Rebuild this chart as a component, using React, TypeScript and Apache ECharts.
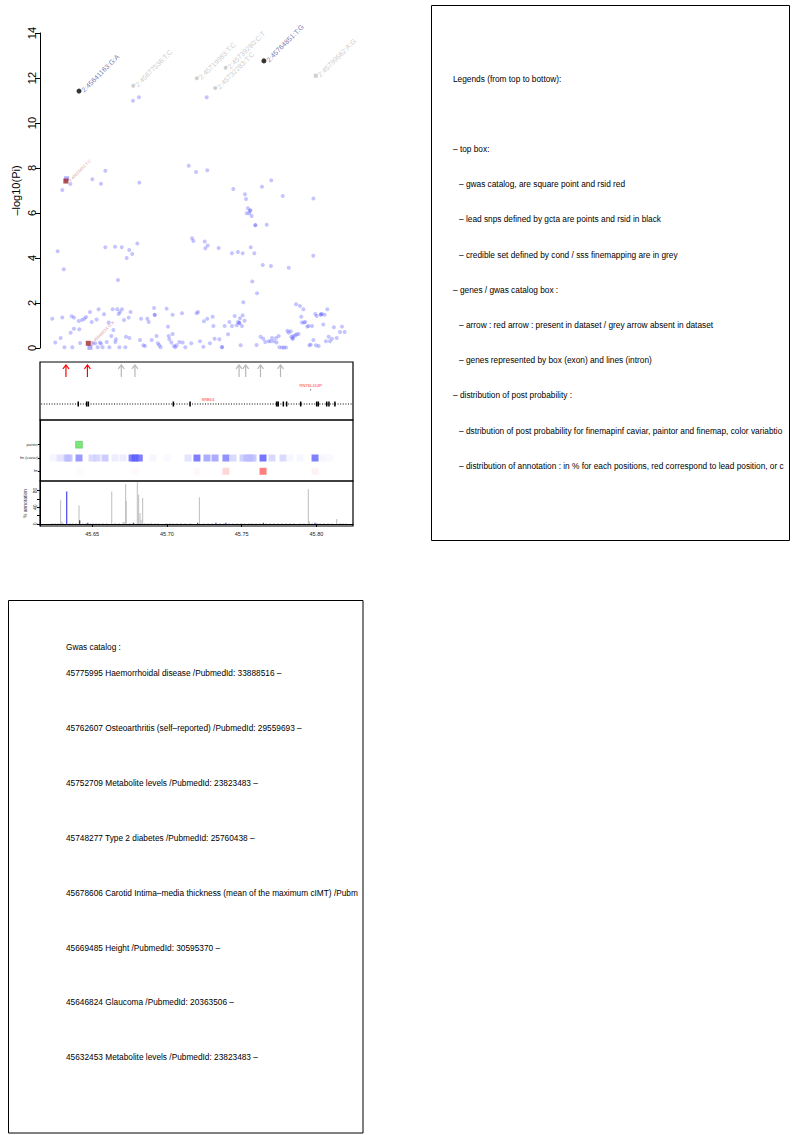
import React, { useEffect, useRef } from "react";
import * as echarts from "echarts";

const FONT = "'Liberation Sans', Arial, Helvetica, sans-serif";

// ---------- axis ranges / ticks ----------
const regionStart = 45.6151;
const regionEnd = 45.8245;
const positionTicks = [45.65, 45.7, 45.75, 45.8];
const logPMax = 14;
const annotationTicks = [0, 20, 40, 60, 80];
const annotationLabels = [0, 40, 80];

// ---------- scatter: all SNPs (position Mb, -log10 p) ----------
const snpPoints: [number, number][] = [
  [45.6773, 10.99], [45.6813, 11.14], [45.7266, 11.14],
  [45.63, 7.02], [45.6354, 7.29], [45.6501, 7.5], [45.6559, 7.3], [45.6588, 7.88], [45.6815, 7.35],
  [45.7146, 8.1], [45.7195, 7.82], [45.727, 7.9], [45.7444, 7.07], [45.7522, 6.83], [45.7529, 6.62],
  [45.7636, 7.17], [45.7698, 7.45], [45.7775, 6.76], [45.798, 6.64],
  [45.7542, 6.21], [45.7556, 6.1], [45.7558, 6.12], [45.7534, 5.99], [45.7551, 5.99], [45.7567, 5.87],
  [45.7591, 5.45], [45.7592, 5.47], [45.7668, 5.48],
  [45.6269, 4.3], [45.631, 3.5], [45.6588, 4.48], [45.6653, 4.5], [45.6698, 4.48], [45.6748, 4.36],
  [45.6768, 4.18], [45.6802, 4.64], [45.6731, 4.0], [45.6673, 3.02],
  [45.7168, 4.88], [45.7177, 4.76], [45.7253, 4.73], [45.7273, 4.56], [45.7257, 4.43], [45.7346, 4.44],
  [45.7435, 4.21], [45.7475, 4.27], [45.7507, 4.21], [45.7561, 4.48], [45.7585, 4.21], [45.7641, 3.69],
  [45.7696, 3.64], [45.7815, 3.57], [45.7979, 4.1], [45.7571, 2.96], [45.7603, 2.43], [45.7511, 2.03],
  [45.6233, 1.3], [45.6253, 0.24], [45.6289, 0.44], [45.63, 1.36], [45.6314, 0.03], [45.6356, 0.68],
  [45.6363, 1.41], [45.6367, 0.03], [45.6378, 0.86], [45.6378, 1.35], [45.641, 1.2], [45.6414, 0.83],
  [45.6419, 0.22], [45.6432, 1.24], [45.6448, 1.3], [45.6459, 1.38], [45.6485, 1.6], [45.6497, 1.16],
  [45.6503, 0.21], [45.6521, 0.21], [45.653, 1.27], [45.6537, 0.03], [45.6543, 1.72], [45.6552, 0.24],
  [45.6559, 0.19], [45.657, 0.03], [45.6579, 1.5], [45.6597, 0.27], [45.661, 1.13], [45.6615, 0.03],
  [45.6628, 0.53], [45.6637, 1.72], [45.6642, 0.8], [45.6655, 0.27], [45.6659, 0.39], [45.6668, 1.72],
  [45.6677, 1.51], [45.6682, 0.03], [45.6686, 1.6], [45.6699, 1.72], [45.6713, 1.24], [45.6722, 0.03],
  [45.6726, 0.5], [45.6744, 1.35], [45.6749, 0.44], [45.6757, 1.6], [45.682, 0.36], [45.6827, 1.3],
  [45.6842, 0.12], [45.6853, 0.09], [45.6869, 1.3], [45.6878, 1.16], [45.6898, 0.36], [45.6914, 1.78],
  [45.6918, 1.48], [45.6919, 1.47], [45.6931, 0.53], [45.694, 0.21], [45.6949, 0.12], [45.6958, 0.03],
  [45.6998, 1.75], [45.7007, 0.95], [45.7012, 0.53], [45.7016, 0.39], [45.703, 0.24], [45.7038, 0.62],
  [45.7038, 1.48], [45.7047, 0.09], [45.7056, 0.03], [45.7065, 0.12], [45.7083, 0.27], [45.7105, 0.24],
  [45.7101, 1.54], [45.7123, 0.03], [45.7163, 0.21], [45.7199, 1.54], [45.7208, 1.6], [45.7221, 0.3],
  [45.7244, 0.06], [45.7248, 1.19], [45.727, 1.3], [45.7288, 0.21], [45.7306, 1.39], [45.7311, 0.98],
  [45.7319, 0.41], [45.7351, 0.39], [45.7368, 0.03], [45.7369, 0.04], [45.7386, 0.98], [45.7409, 0.61],
  [45.7418, 1.16], [45.7435, 0.98], [45.7453, 1.42], [45.7467, 1.01], [45.7476, 1.16], [45.7484, 1.1],
  [45.7485, 1.12], [45.7489, 1.32], [45.7502, 0.98], [45.7507, 1.45], [45.752, 1.21], [45.7493, 0.12],
  [45.76, 0.13], [45.7627, 0.5], [45.7645, 0.41], [45.7658, 0.27], [45.7681, 0.3], [45.7694, 0.3],
  [45.7703, 0.44], [45.7716, 0.3], [45.773, 0.44], [45.7734, 0.24], [45.7748, 0.53], [45.7752, 0.03],
  [45.777, 0.02], [45.7783, 0.02], [45.7797, 0.02], [45.7806, 0.77], [45.7814, 0.68], [45.7828, 0.74],
  [45.7832, 0.5], [45.7841, 0.41], [45.7842, 0.43], [45.7846, 0.53], [45.7859, 0.56], [45.7868, 0.61],
  [45.7881, 0.62], [45.7864, 1.94], [45.789, 1.87], [45.7899, 1.39], [45.7904, 1.13], [45.7913, 1.72],
  [45.7917, 1.13], [45.7926, 1.16], [45.7939, 0.95], [45.7948, 0.98], [45.7953, 0.12], [45.7962, 0.15],
  [45.7971, 0.98], [45.798, 0.36], [45.7993, 1.51], [45.7997, 0.12], [45.8002, 1.42], [45.8015, 0.09],
  [45.8029, 1.48], [45.803, 1.5], [45.8037, 1.51], [45.8046, 1.04], [45.8055, 1.48], [45.8064, 0.3],
  [45.8073, 1.72], [45.8082, 0.5], [45.8091, 0.3], [45.8104, 0.41], [45.8117, 0.92], [45.8136, 0.44],
  [45.8158, 0.71], [45.8171, 0.95], [45.8189, 0.71],
];

// lead SNPs (gcta) - black points
const leadIds = ["2:45641163:G:A", "2:45764851:T:G"];
const leadPos = [45.6412, 45.7649];
const leadLogP = [11.42, 12.76];

// credible set SNPs - grey
const credIds = ["2:45677536:T:C", "2:45719983:T:C", "2:45739280:C:T", "2:45732283:T:C", "2:45799562:A:G"];
const credPos = [45.6775, 45.72, 45.7393, 45.7323, 45.7996];
const credLogP = [11.66, 11.99, 12.46, 11.56, 12.1];
const credShape = ["circle", "circle", "circle", "circle", "rect"];

// gwas catalog SNPs found in data - red
const gwasIds = ["2:45632453:T:C", "2:45646824:G:A"];
const gwasPos = [45.6324, 45.6474];
const gwasLogP = [7.42, 0.21];
const gwasSquarePos = [45.6329, 45.6485];
const gwasSquareLogP = [7.52, 0.03];

// ---------- genes / gwas catalog box ----------
const catalogPos = [45.632453, 45.646824, 45.669485, 45.678606, 45.748277, 45.752709, 45.762607, 45.775995];
const catalogInData = [1, 1, 0, 0, 0, 0, 0, 0];
const geneNames = ["SRBD1", "RN7SL414P"];
const geneStart = [45.6159, 45.7961];
const geneEnd = [45.8393, 45.7963];
const geneRow = [0, 1];
const exons: [number, number][] = [
  [45.6403, 45.6411], [45.646, 45.6466], [45.6471, 45.6478], [45.7041, 45.7045], [45.7152, 45.7158],
  [45.7729, 45.7741], [45.7742, 45.7748], [45.7776, 45.7782], [45.7798, 45.7804], [45.7892, 45.7898],
  [45.7998, 45.8006], [45.801, 45.8016], [45.8066, 45.8072], [45.8081, 45.8087], [45.8121, 45.8127],
];

// ---------- post probability ----------
const probRows = ["fm", "fm (caviar)", "paintor"];
const paintorPP: [number, number][] = [[45.6412, 0.65]];
const caviarPP: [number, number][] = [
  [45.6238, 0.05], [45.6285, 0.15], [45.6332, 0.3], [45.6345, 0.3], [45.6412, 0.55], [45.6499, 0.2],
  [45.6532, 0.22], [45.6586, 0.28], [45.6653, 0.1], [45.6706, 0.1], [45.6767, 0.7], [45.6787, 0.72],
  [45.6815, 0.7], [45.6907, 0.05], [45.7001, 0.03], [45.7141, 0.15], [45.7201, 0.7], [45.7268, 0.45],
  [45.7322, 0.45], [45.7395, 0.6], [45.7442, 0.2], [45.7509, 0.25], [45.7536, 0.3], [45.7556, 0.3],
  [45.7576, 0.3], [45.7643, 0.75], [45.7703, 0.2], [45.7777, 0.2], [45.7824, 0.05], [45.789, 0.05],
  [45.7991, 0.7], [45.8044, 0.05], [45.8091, 0.03],
];
const finemapPP: [number, number][] = [
  [45.6419, 0.03], [45.6787, 0.03], [45.7201, 0.04], [45.7395, 0.22], [45.7643, 0.7], [45.7991, 0.07],
];

// ---------- annotation % ----------
const annotGrey: [number, number][] = [
  [45.6289, 57], [45.6298, 6], [45.6412, 44], [45.6631, 78], [45.6713, 5], [45.6724, 96], [45.6728, 55],
  [45.6802, 100], [45.6811, 70], [45.682, 26], [45.6827, 10], [45.6838, 62], [45.7217, 64], [45.7946, 83],
  [45.7953, 6], [45.8136, 12],
  [45.6231, 2], [45.6251, 2], [45.6271, 3], [45.6305, 2], [45.6352, 2], [45.6372, 3], [45.6392, 2],
  [45.6439, 2], [45.6459, 2], [45.6486, 2], [45.6506, 2], [45.6526, 3], [45.6546, 2], [45.6572, 2],
  [45.6599, 2], [45.6653, 3], [45.668, 2], [45.6706, 4], [45.6753, 2], [45.678, 3], [45.6853, 2],
  [45.6874, 2], [45.6894, 3], [45.692, 2], [45.694, 2], [45.6994, 2], [45.7021, 3], [45.7041, 2],
  [45.7068, 2], [45.7094, 2], [45.7121, 2], [45.7155, 2], [45.7248, 2], [45.7275, 2], [45.7302, 2],
  [45.7355, 2], [45.7382, 2], [45.7415, 2], [45.7442, 2], [45.7469, 2], [45.7496, 2], [45.7522, 2],
  [45.7549, 2], [45.7569, 2], [45.7596, 2], [45.7623, 2], [45.7663, 2], [45.769, 2], [45.7716, 2],
  [45.7743, 2], [45.777, 2], [45.7797, 2], [45.7824, 2], [45.785, 2], [45.789, 2], [45.7917, 2],
  [45.7971, 3], [45.8004, 3], [45.8024, 2], [45.8051, 2], [45.8078, 2], [45.8104, 2], [45.8158, 2],
  [45.8178, 2], [45.8198, 2],
];
const annotBlue: [number, number][] = [
  [45.633, 78], [45.6471, 3], [45.6775, 3], [45.7206, 3], [45.7328, 3], [45.7395, 3], [45.7645, 3], [45.7991, 3],
];
const annotLead: [number, number][] = [[45.6417, 9]];

// ---------- text boxes ----------
const legendLines = [
  { level: 0, text: "Legends (from top to bottow):" },
  { level: 0, text: "" },
  { level: 0, text: "– top box:" },
  { level: 1, text: "– gwas catalog, are square point and rsid red" },
  { level: 1, text: "– lead snps defined by gcta are points and rsid in black" },
  { level: 1, text: "– credible set defined by cond / sss finemapping are in grey" },
  { level: 0, text: "– genes / gwas catalog box :" },
  { level: 1, text: "– arrow : red arrow : present in dataset / grey arrow absent in dataset" },
  { level: 1, text: "– genes represented by box (exon) and lines (intron)" },
  { level: 0, text: "– distribution of post probability :" },
  { level: 1, text: "– dstribution of post probability for finemapinf caviar, paintor and finemap, color variabtio" },
  { level: 1, text: "– distribution of annotation : in % for each positions, red correspond to lead position, or c" },
];
const gwasTitle = "Gwas catalog :";
const gwasLines = [
  "45775995 Haemorrhoidal disease /PubmedId: 33888516 –",
  "45762607 Osteoarthritis (self–reported) /PubmedId: 29559693 –",
  "45752709 Metabolite levels /PubmedId: 23823483 –",
  "45748277 Type 2 diabetes /PubmedId: 25760438 –",
  "45678606 Carotid Intima–media thickness (mean of the maximum cIMT) /Pubm",
  "45669485 Height /PubmedId: 30595370 –",
  "45646824 Glaucoma /PubmedId: 20363506 –",
  "45632453 Metabolite levels /PubmedId: 23823483 –",
];

function buildOption() {
  const plotLeft = 40;
  const plotWidth = 313;
  const geneRowY = [0.276, 0.52];
  const rowValue = (name: string) => probRows.indexOf(name) + 1;

  const xBase = { type: "value", min: regionStart, max: regionEnd, show: false };

  const barRender = (color: string) => (params: any, api: any) => {
    const x = api.value(0);
    const v = api.value(1);
    const p0 = api.coord([x, 0]);
    const p1 = api.coord([x, v]);
    return {
      type: "rect",
      shape: { x: p0[0] - 0.5, y: p1[1], width: 1, height: p0[1] - p1[1] },
      style: { fill: color },
    };
  };

  const legendGraphics: any[] = legendLines.map((ln, i) => ({
    type: "text",
    x: ln.level === 0 ? 453 : 459,
    y: 78.6 + 35.2 * i,
    style: {
      text: ln.text,
      fontSize: 8.3,
      fontFamily: FONT,
      fill: "#000",
      verticalAlign: "middle",
      width: ln.level === 0 ? 337 : 331,
      overflow: "truncate",
      ellipsis: "",
    },
  }));
  const gwasGraphics: any[] = [
    {
      type: "text",
      x: 66,
      y: 647,
      style: { text: gwasTitle, fontSize: 8.3, fontFamily: FONT, fill: "#000", verticalAlign: "middle" },
    },
    ...gwasLines.map((t, i) => ({
      type: "text",
      x: 66,
      y: 673 + 54.9 * i,
      style: {
        text: t,
        fontSize: 8.3,
        fontFamily: FONT,
        fill: "#000",
        verticalAlign: "middle",
        width: 297,
        overflow: "truncate",
        ellipsis: "",
      },
    })),
  ];

  return {
    animation: false,
    backgroundColor: "#ffffff",
    textStyle: { fontFamily: FONT },
    grid: [
      { left: plotLeft, top: 33, width: plotWidth, height: 315, show: false },
      { left: plotLeft, top: 362, width: plotWidth, height: 58, show: true, borderColor: "#000", borderWidth: 1.2 },
      { left: plotLeft, top: 420, width: plotWidth, height: 61, show: true, borderColor: "#000", borderWidth: 1.2 },
      { left: plotLeft, top: 481, width: plotWidth, height: 45, show: true, borderColor: "#000", borderWidth: 1.2 },
    ],
    xAxis: [
      { ...xBase, gridIndex: 0 },
      { ...xBase, gridIndex: 1 },
      { ...xBase, gridIndex: 2 },
      {
        type: "value",
        gridIndex: 3,
        min: regionStart,
        max: regionEnd,
        position: "bottom",
        axisLine: { show: true, lineStyle: { color: "#000", width: 1 } },
        axisTick: { show: true, customValues: positionTicks, length: 3, lineStyle: { color: "#000" } },
        axisLabel: {
          customValues: positionTicks,
          formatter: (v: number) => v.toFixed(2),
          fontSize: 5.5,
          color: "#222",
          margin: 5,
          fontFamily: FONT,
        },
        splitLine: { show: false },
      },
    ],
    yAxis: [
      {
        type: "value",
        gridIndex: 0,
        min: 0,
        max: logPMax,
        interval: 2,
        axisLine: { show: true, lineStyle: { color: "#000", width: 1 } },
        axisTick: { show: true, length: 5, lineStyle: { color: "#000" } },
        axisLabel: { rotate: 90, fontSize: 11, color: "#000", margin: 3, fontFamily: FONT },
        splitLine: { show: false },
        name: "–log10(Pi)",
        nameLocation: "middle",
        nameGap: 19,
        nameTextStyle: { fontSize: 11, color: "#000", fontFamily: FONT },
      },
      { type: "value", gridIndex: 1, min: 0, max: 1, show: false },
      {
        type: "value",
        gridIndex: 2,
        min: 0.27,
        max: 4.86,
        axisLine: { show: true, lineStyle: { color: "#000" } },
        axisTick: { show: true, customValues: [1, 2, 3], length: 2, lineStyle: { color: "#000" } },
        axisLabel: {
          customValues: [1, 2, 3],
          formatter: (v: number) => probRows[Math.round(v) - 1] || "",
          fontSize: 3.8,
          color: "#333",
          margin: 2,
          fontFamily: FONT,
        },
        splitLine: { show: false },
      },
      {
        type: "value",
        gridIndex: 3,
        min: -5,
        max: 103,
        axisLine: { show: true, lineStyle: { color: "#000" } },
        axisTick: { show: true, customValues: annotationTicks, length: 3, lineStyle: { color: "#000" } },
        axisLabel: {
          customValues: annotationLabels,
          rotate: 90,
          fontSize: 5,
          color: "#333",
          margin: 3,
          fontFamily: FONT,
        },
        splitLine: { show: false },
        name: "% annotation",
        nameLocation: "middle",
        nameGap: 13,
        nameTextStyle: { fontSize: 5, color: "#333", fontFamily: FONT },
      },
    ],
    visualMap: [
      { type: "continuous", show: false, seriesIndex: 9, dimension: 2, min: 0, max: 1, inRange: { color: ["#ffffff", "#00cc00"] } },
      { type: "continuous", show: false, seriesIndex: 10, dimension: 2, min: 0, max: 1, inRange: { color: ["#ffffff", "#1a1aff"] } },
      { type: "continuous", show: false, seriesIndex: 11, dimension: 2, min: 0, max: 1, inRange: { color: ["#ffffff", "#ff1a1a"] } },
    ],
    series: [
      // 0 all SNPs
      {
        type: "scatter",
        xAxisIndex: 0,
        yAxisIndex: 0,
        data: snpPoints,
        symbol: "circle",
        symbolSize: 4,
        itemStyle: { color: "rgba(80,80,255,0.42)" },
      },
      // 1 gwas squares
      {
        type: "scatter",
        xAxisIndex: 0,
        yAxisIndex: 0,
        data: gwasSquarePos.map((p, i) => [p, gwasSquareLogP[i]]),
        symbol: "rect",
        symbolSize: 5,
        itemStyle: { color: "rgba(120,120,255,0.75)" },
      },
      // 2 gwas in data (red)
      {
        type: "scatter",
        xAxisIndex: 0,
        yAxisIndex: 0,
        data: gwasPos.map((p, i) => ({ name: gwasIds[i], value: [p, gwasLogP[i]] })),
        symbol: "rect",
        symbolSize: 5,
        itemStyle: { color: "#a02828" },
        label: {
          show: true,
          formatter: "{b}",
          position: "right",
          rotate: 45,
          distance: 1,
          fontSize: 4.2,
          color: "#d07a7a",
          fontFamily: FONT,
        },
      },
      // 3 credible set (grey)
      {
        type: "scatter",
        xAxisIndex: 0,
        yAxisIndex: 0,
        data: credPos.map((p, i) => ({ name: credIds[i], value: [p, credLogP[i]], symbol: credShape[i] })),
        symbolSize: 4,
        itemStyle: { color: "#c4c4c4" },
        label: {
          show: true,
          formatter: "{b}",
          position: "right",
          rotate: 45,
          distance: 1,
          fontSize: 7,
          color: "#bdbdbd",
          fontFamily: FONT,
        },
      },
      // 4 lead snps (black)
      {
        type: "scatter",
        xAxisIndex: 0,
        yAxisIndex: 0,
        data: leadPos.map((p, i) => ({ name: leadIds[i], value: [p, leadLogP[i]] })),
        symbol: "circle",
        symbolSize: 5,
        itemStyle: { color: "#000" },
        label: {
          show: true,
          formatter: "{b}",
          position: "right",
          rotate: 45,
          distance: 1,
          fontSize: 7,
          color: "#55559e",
          fontFamily: FONT,
        },
      },
      // 5 gwas catalog arrows
      {
        type: "custom",
        xAxisIndex: 1,
        yAxisIndex: 1,
        data: catalogPos.map((p, i) => [p, catalogInData[i]]),
        renderItem: (params: any, api: any) => {
          const x = api.value(0);
          const present = api.value(1) > 0;
          const b = api.coord([x, 0.74]);
          const t = api.coord([x, 0.95]);
          const color = present ? "#ff0000" : "#b8b8b8";
          return {
            type: "group",
            children: [
              { type: "line", shape: { x1: b[0], y1: b[1], x2: t[0], y2: t[1] }, style: { stroke: color, lineWidth: 1.2 } },
              {
                type: "polyline",
                shape: { points: [[t[0] - 3, t[1] + 4], [t[0], t[1]], [t[0] + 3, t[1] + 4]] },
                style: { stroke: color, fill: "none", lineWidth: 1.2 },
              },
            ],
          };
        },
      },
      // 6 genes (introns dotted + label)
      {
        type: "custom",
        xAxisIndex: 1,
        yAxisIndex: 1,
        clip: true,
        data: geneNames.map((n, i) => ({ name: n, value: [geneStart[i], geneEnd[i], geneRow[i]] })),
        renderItem: (params: any, api: any) => {
          const s = api.value(0);
          const e = api.value(1);
          const row = api.value(2);
          const yv = geneRowY[row];
          const a = api.coord([s, yv]);
          const c = api.coord([e, yv]);
          const mid = api.coord([(s + e) / 2, yv]);
          const name = geneNames[params.dataIndex];
          const children: any[] = [];
          if (c[0] - a[0] > 2) {
            children.push({
              type: "line",
              shape: { x1: a[0], y1: a[1], x2: c[0], y2: c[1] },
              style: { stroke: "#000", lineWidth: 1, lineDash: [1, 1.6] },
            });
          } else {
            children.push({ type: "rect", shape: { x: mid[0] - 0.4, y: mid[1] - 0.6, width: 0.8, height: 1.2 }, style: { fill: "#444" } });
          }
          children.push({
            type: "text",
            style: {
              text: name,
              x: mid[0],
              y: mid[1] - 4,
              fontSize: 4,
              fontFamily: FONT,
              fill: "#ff3030",
              align: "center",
              verticalAlign: "middle",
            },
          });
          return { type: "group", children };
        },
      },
      // 7 exons
      {
        type: "custom",
        xAxisIndex: 1,
        yAxisIndex: 1,
        clip: true,
        data: exons,
        renderItem: (params: any, api: any) => {
          const a = api.coord([api.value(0), geneRowY[0]]);
          const c = api.coord([api.value(1), geneRowY[0]]);
          const w = Math.max(1.5, c[0] - a[0]);
          return { type: "rect", shape: { x: (a[0] + c[0]) / 2 - w / 2, y: a[1] - 2.5, width: w, height: 5 }, style: { fill: "#000" } };
        },
      },
      // 8 placeholder (keeps heat series indices stable)
      { type: "scatter", xAxisIndex: 2, yAxisIndex: 2, data: [] },
      // 9 paintor
      {
        type: "scatter",
        xAxisIndex: 2,
        yAxisIndex: 2,
        data: paintorPP.map(([p, v]) => [p, rowValue("paintor"), v]),
        symbol: "rect",
        symbolSize: [7, 7],
        itemStyle: { borderColor: "rgba(0,140,0,0.5)", borderWidth: 0.6 },
      },
      // 10 caviar
      {
        type: "scatter",
        xAxisIndex: 2,
        yAxisIndex: 2,
        data: caviarPP.map(([p, v]) => [p, rowValue("fm (caviar)"), v]),
        symbol: "rect",
        symbolSize: [7, 7],
      },
      // 11 finemap
      {
        type: "scatter",
        xAxisIndex: 2,
        yAxisIndex: 2,
        data: finemapPP.map(([p, v]) => [p, rowValue("fm"), v]),
        symbol: "rect",
        symbolSize: [7, 7],
      },
      // 12 annotation grey
      { type: "custom", xAxisIndex: 3, yAxisIndex: 3, clip: true, data: annotGrey, renderItem: barRender("#bdbdbd") },
      // 13 annotation blue
      { type: "custom", xAxisIndex: 3, yAxisIndex: 3, clip: true, data: annotBlue, renderItem: barRender("#2020ee") },
      // 14 annotation lead
      { type: "custom", xAxisIndex: 3, yAxisIndex: 3, clip: true, data: annotLead, renderItem: barRender("#2a1040") },
    ],
    graphic: [
      {
        type: "rect",
        shape: { x: 431.5, y: 5.5, width: 358, height: 535 },
        style: { fill: "transparent", stroke: "#000", lineWidth: 1 },
      },
      {
        type: "rect",
        shape: { x: 8.5, y: 600.5, width: 354.5, height: 532.5 },
        style: { fill: "transparent", stroke: "#000", lineWidth: 1 },
      },
      ...legendGraphics,
      ...gwasGraphics,
    ],
  };
}

export default function App() {
  const ref = useRef<HTMLDivElement | null>(null);
  useEffect(() => {
    document.body.style.margin = "0";
    if (!ref.current) return;
    const chart = echarts.init(ref.current, null, { renderer: "svg" });
    chart.setOption(buildOption() as any);
    return () => {
      chart.dispose();
    };
  }, []);
  return <div ref={ref} style={{ width: 794, height: 1135 }} />;
}
